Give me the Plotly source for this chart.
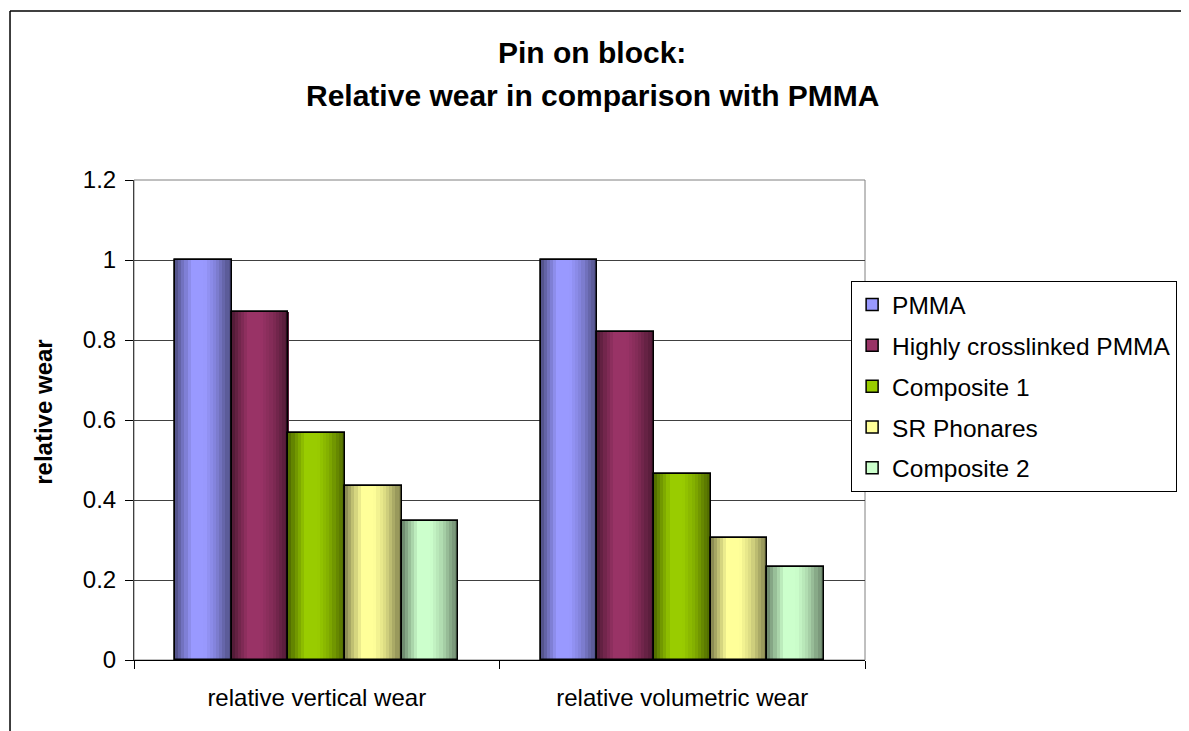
import plotly.graph_objects as go

categories = ["relative vertical wear", "relative volumetric wear"]
series_names = ["PMMA", "Highly crosslinked PMMA", "Composite 1", "SR Phonares", "Composite 2"]
pmma = [1.0, 1.0]
hc_pmma = [0.87, 0.82]
composite1 = [0.567, 0.465]
sr_phonares = [0.435, 0.304]
composite2 = [0.347, 0.232]
series_values = [pmma, hc_pmma, composite1, sr_phonares, composite2]
base_colors = ["#9999FF", "#993366", "#99CC00", "#FFFF99", "#CCFFCC"]
y_ticks = [0, 0.2, 0.4, 0.6, 0.8, 1.0, 1.2]

FONT = "Liberation Sans, Arial, sans-serif"
OFF = 8  # page body margin
W, H = 1189 - OFF, 731 - OFF
# plot area in screen pixels
SL, SR, ST, SB = 134, 871, 180, 660

bar_w = 0.155
n_slices = 18
profile_pts = [(0.0, 0.50), (0.12, 0.72), (0.30, 1.0), (0.52, 1.0), (0.72, 0.85), (0.90, 0.62), (1.0, 0.52)]


def profile(t):
    for (t0, v0), (t1, v1) in zip(profile_pts[:-1], profile_pts[1:]):
        if t0 <= t <= t1:
            return v0 + (v1 - v0) * (t - t0) / (t1 - t0)
    return profile_pts[-1][1]


def shade(hexc, f):
    r, g, b = int(hexc[1:3], 16), int(hexc[3:5], 16), int(hexc[5:7], 16)
    return "rgb(%d,%d,%d)" % (r * f, g * f, b * f)


fig = go.Figure()
xidx = list(range(len(categories)))
for i, (name, vals, col) in enumerate(zip(series_names, series_values, base_colors)):
    centers = [c + (i - 2) * bar_w for c in xidx]
    fig.add_trace(go.Bar(
        x=centers, y=vals, width=bar_w, name=name,
        marker=dict(color=col, line=dict(color="black", width=1.5)),
        legendgroup=name, showlegend=True, hoverinfo="skip"))
    sw = bar_w / n_slices
    for s in range(n_slices):
        t = (s + 0.5) / n_slices
        fig.add_trace(go.Bar(
            x=[c - bar_w / 2 + (s + 0.5) * sw for c in centers], y=vals,
            width=sw * 1.05, marker=dict(color=shade(col, profile(t)), line=dict(width=0)),
            legendgroup=name, showlegend=False, hoverinfo="skip"))
    fig.add_trace(go.Bar(
        x=centers, y=vals, width=bar_w,
        marker=dict(color="rgba(0,0,0,0)", line=dict(color="black", width=1.5)),
        legendgroup=name, showlegend=False, hoverinfo="skip"))


def px_x(p):
    return (p - SL) / (SR - SL)


def px_y(p):
    return (SB - p) / (SB - ST)


fig.update_layout(
    width=W, height=H,
    margin=dict(l=SL - OFF, r=W - (SR - OFF), t=ST - OFF, b=H - (SB - OFF), pad=0),
    paper_bgcolor="white", plot_bgcolor="white",
    barmode="overlay", bargap=0,
    font=dict(family=FONT, size=24, color="black"),
    showlegend=True,
    legend=dict(x=px_x(857), y=px_y(281), xanchor="left", yanchor="top",
                bordercolor="black", borderwidth=1, bgcolor="white",
                font=dict(family=FONT, size=24.5, color="black"),
                tracegroupgap=6, itemclick=False, itemdoubleclick=False),
    xaxis=dict(range=[-0.5, 1.5], tickmode="array", tickvals=xidx, ticktext=categories,
               ticks="", showgrid=False, zeroline=False, showline=True, linecolor="black",
               linewidth=1, ticklabelstandoff=16,
               tickfont=dict(family=FONT, size=24, color="black"),
               minor=dict(tickmode="array", tickvals=[-0.5, 0.5, 1.5], ticks="outside",
                          ticklen=8, tickcolor="black", tickwidth=1, showgrid=False)),
    yaxis=dict(range=[0, 1.2], tickmode="array", tickvals=y_ticks, ticks="outside",
               ticklen=8, tickcolor="black", showgrid=True, gridcolor="#404040", gridwidth=1,
               zeroline=False, showline=True, linecolor="#404040", linewidth=1,
               ticklabelstandoff=4,
               tickfont=dict(family=FONT, size=24, color="black")),
    shapes=[
        dict(type="rect", xref="paper", yref="paper", x0=0, x1=1, y0=0, y1=1,
             line=dict(color="#808080", width=1), layer="below"),
        dict(type="line", xref="paper", yref="paper", x0=px_x(9), x1=px_x(1200),
             y0=px_y(11), y1=px_y(11), line=dict(color="black", width=1.5)),
        dict(type="line", xref="paper", yref="paper", x0=px_x(9), x1=px_x(9),
             y0=px_y(11), y1=px_y(740), line=dict(color="black", width=1.5)),
    ],
    annotations=[
        dict(text="<b>Pin on block:</b>", xref="paper", yref="paper", x=px_x(596), y=px_y(53),
             xanchor="center", yanchor="middle", showarrow=False,
             font=dict(family=FONT, size=30, color="black")),
        dict(text="<b>Relative wear in comparison with PMMA</b>", xref="paper", yref="paper",
             x=px_x(596), y=px_y(95), xanchor="center", yanchor="middle", showarrow=False,
             font=dict(family=FONT, size=30, color="black")),
        dict(text="<b>relative wear</b>", xref="paper", yref="paper", x=px_x(42), y=px_y(412),
             xanchor="center", yanchor="middle", textangle=-90, showarrow=False,
             font=dict(family=FONT, size=24, color="black")),
    ],
)

fig.write_html("out.html")
